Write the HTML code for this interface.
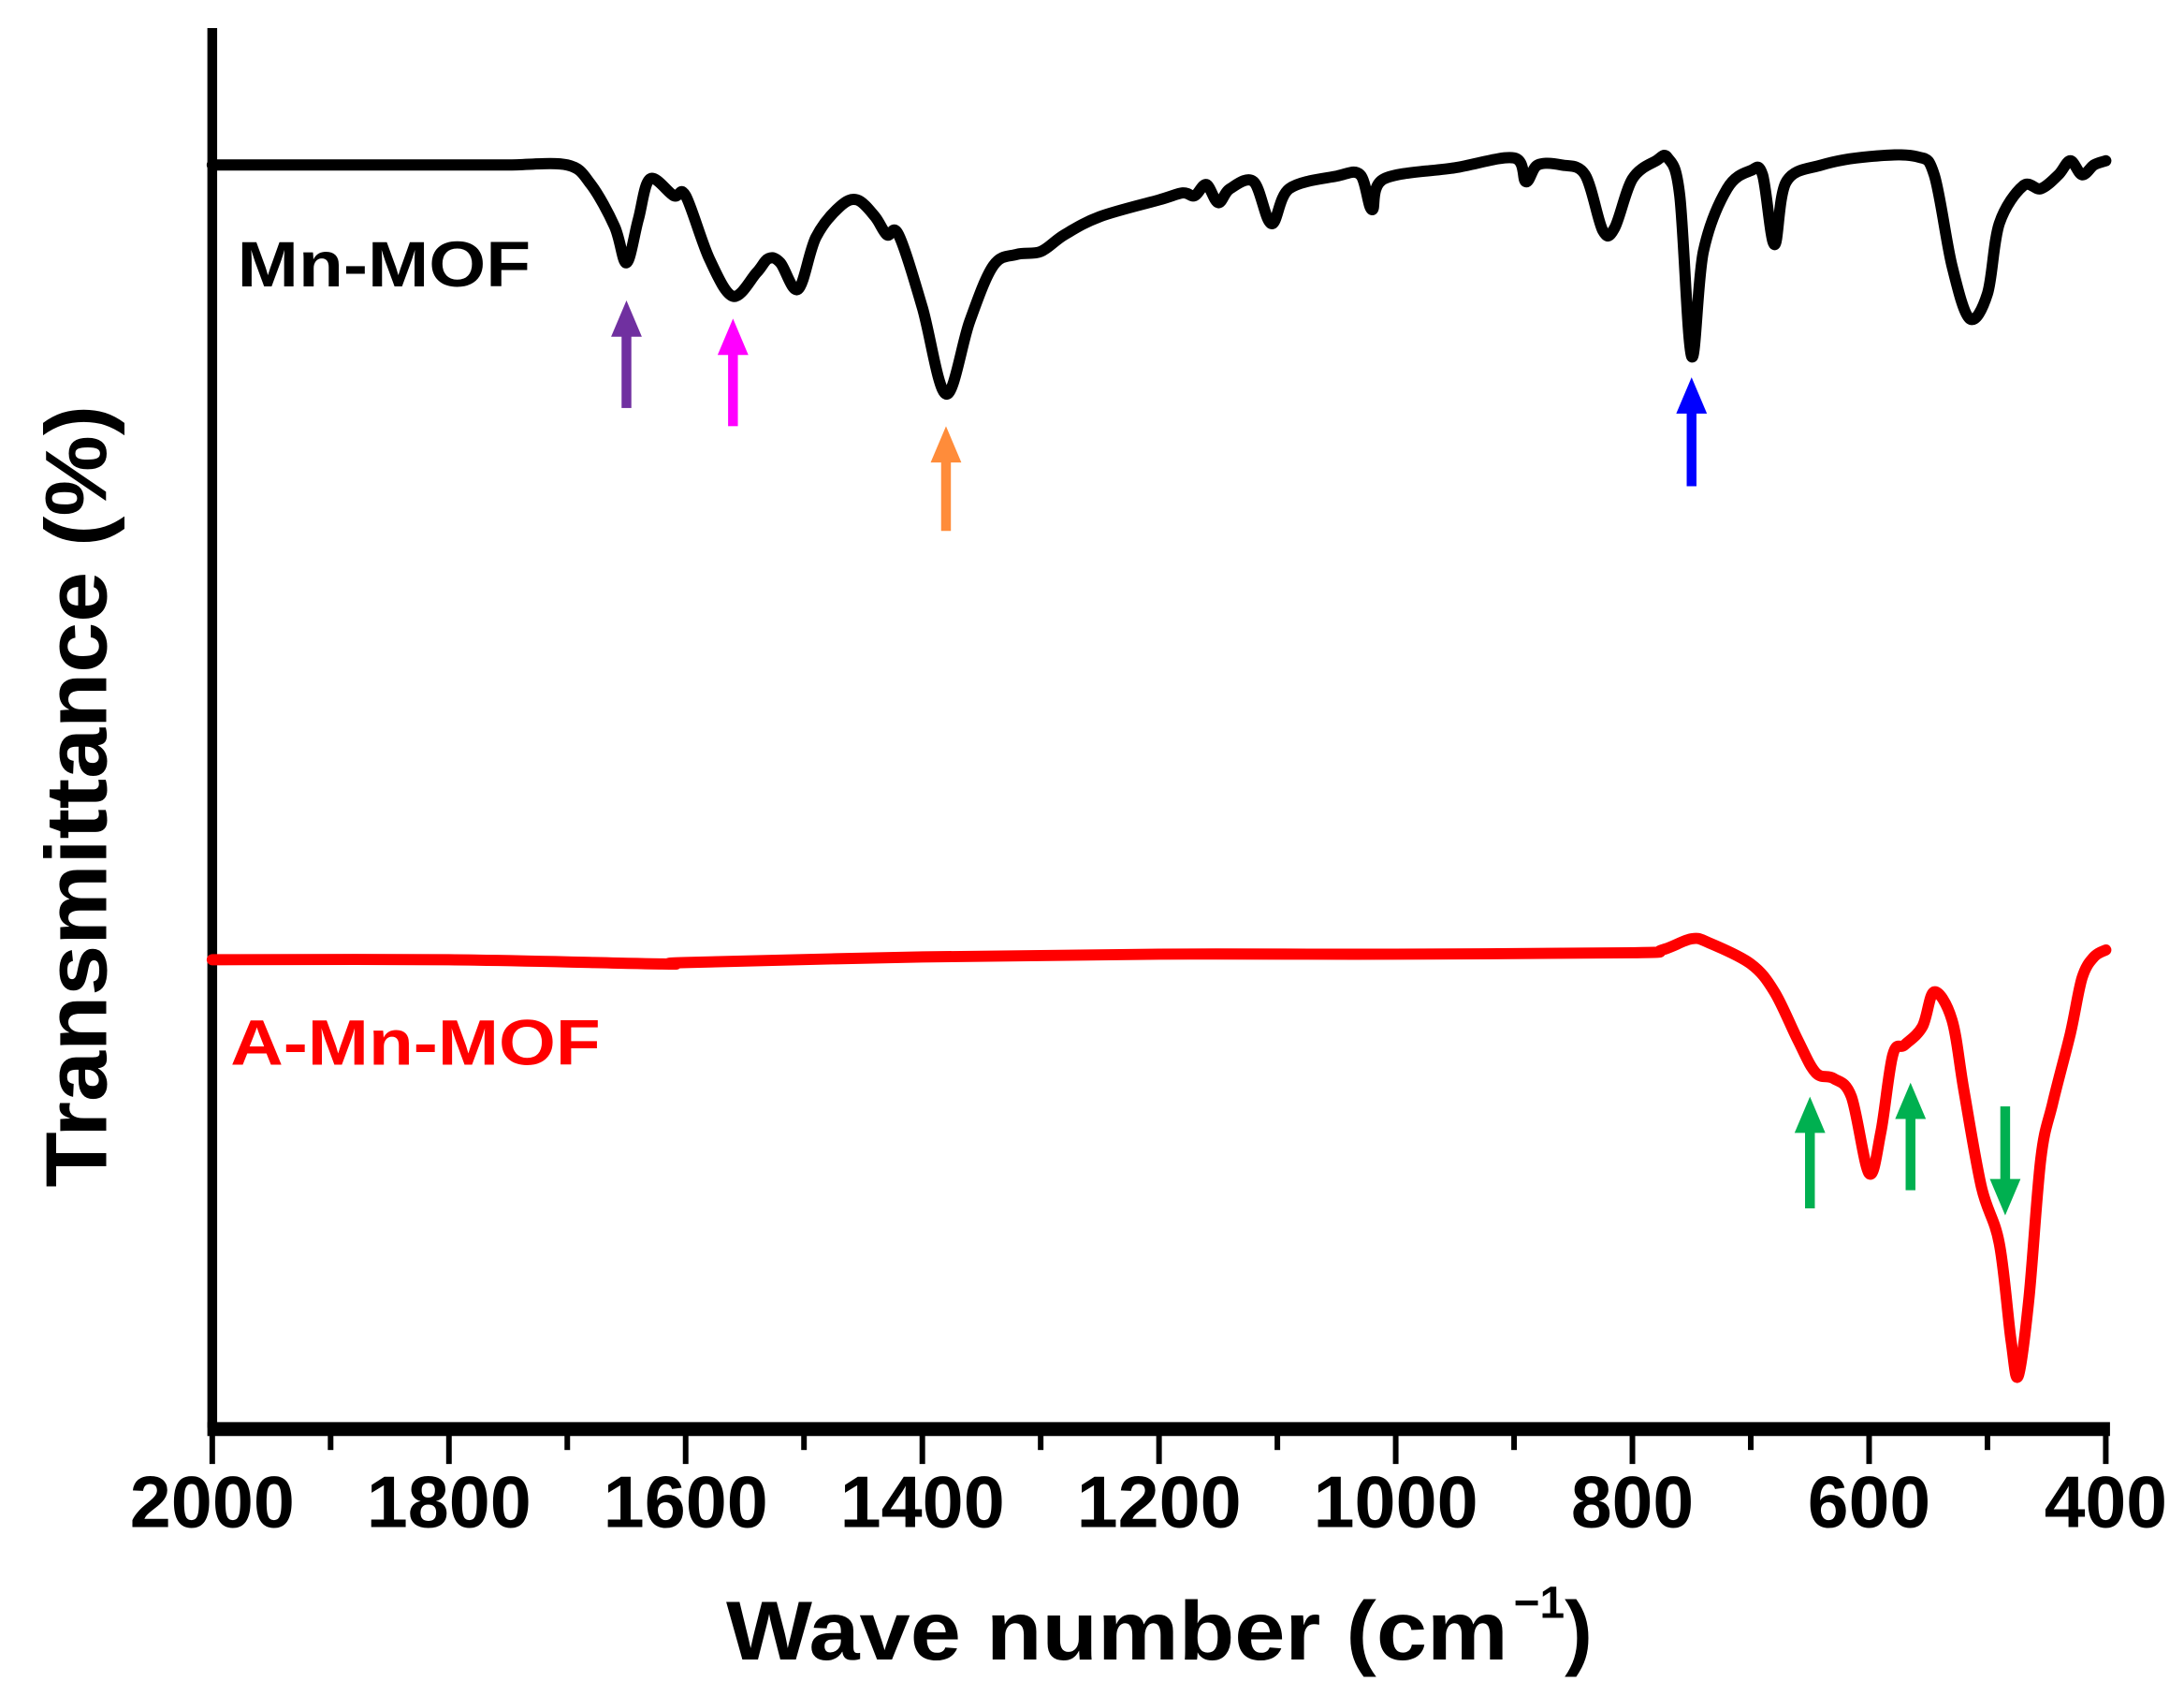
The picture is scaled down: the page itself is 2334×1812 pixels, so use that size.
<!DOCTYPE html>
<html><head><meta charset="utf-8"><style>
html,body{margin:0;padding:0;background:#fff;}
svg{display:block;font-family:"Liberation Sans",Arial,sans-serif;font-weight:bold;}
</style></head><body>
<svg id="chart" width="2334" height="1812" viewBox="0 0 1564 1214" xmlns="http://www.w3.org/2000/svg">
<g id="axes"></g>
<g id="series"></g>
<g id="arrows"></g>
<text x="170" y="205" font-size="46" textLength="210" lengthAdjust="spacingAndGlyphs" fill="#000">Mn-MOF</text>
<text x="165" y="762" font-size="46" textLength="265" lengthAdjust="spacingAndGlyphs" fill="#ff0000">A-Mn-MOF</text>
<text x="520" y="1188" font-size="60"><tspan textLength="560" lengthAdjust="spacingAndGlyphs">Wave number (cm</tspan><tspan dx="4" dy="-30" font-size="32">−1</tspan><tspan dy="30">)</tspan></text>
<text transform="translate(76,570) rotate(-90)" font-size="62" text-anchor="middle" textLength="560" lengthAdjust="spacingAndGlyphs">Transmittance (%)</text>
</svg>
<script>
const xTicks = [2000,1800,1600,1400,1200,1000,800,600,400];
const xMinorTicks = [1900,1700,1500,1300,1100,900,700,500];
const mnWave = [2000,1950,1900,1850,1800,1750,1700,1680,1660,1650,1640,1630,1610,1600,1580,1560,1540,1530,1520,1505,1490,1470,1455,1440,1430,1420,1400,1380,1360,1340,1320,1300,1280,1250,1200,1180,1170,1160,1150,1140,1120,1105,1090,1050,1030,1020,1010,950,900,890,880,860,840,825,815,800,780,770,760,750,740,720,700,690,680,670,640,600,560,545,530,515,500,490,470,455,440,430,420,410,400];
const mnT = [90.4,90.4,90.4,90.4,90.4,90.4,90.4,89,86,83.4,86.5,89.4,88.2,88.2,83.7,81.0,82.7,83.7,83.4,81.5,85.2,87.4,87.9,86.7,85.4,85.4,80.2,74.0,79.2,83.2,84.0,84.2,85.4,86.7,87.9,88.4,88.2,89.0,87.7,88.7,89.2,86.2,88.7,89.6,89.7,87.2,89.4,90.2,90.9,89.2,90.4,90.4,89.7,85.7,85.9,89.4,90.7,90.9,88.2,76.7,84.2,88.7,90.0,89.7,84.7,89.2,90.4,91.0,91.0,89.7,83.2,79.4,81.2,86.2,88.9,88.7,89.7,90.7,89.7,90.4,90.7];
const amnWave = [2000,1800,1620,1600,1400,1200,1000,800,775,750,735,700,680,660,645,630,615,600,590,580,570,555,545,530,520,505,490,480,474,465,455,445,430,420,410,400];
const amnT = [33.5,33.5,33.2,33.3,33.7,33.9,33.9,34.0,34.2,35.0,34.7,33.2,31.2,27.7,25.4,25.0,23.7,18.2,21.2,26.7,27.4,28.7,31.2,29.2,24.2,17.2,13.2,6.2,3.7,9.2,19.2,23.2,28.2,32.2,33.7,34.2];
const arrowWave = [1650,1560,1380,750,650,565,485];
const arrowColors = ["#7030a0","#ff00ff","#ff8c3a","#0000ff","#00b050","#00b050","#00b050"];
const arrowDir = ["up","up","up","up","up","up","down"];
const arrowTop = [80.7,79.4,71.7,75.2,23.7,24.7,23.0];
const arrowBottom = [73.0,71.7,64.2,67.4,15.7,17.0,15.2];

const NS="http://www.w3.org/2000/svg";
const X0=152,X1=1508,YB=1022;
function xs(w){return X0+(2000-w)*(X1-X0)/1600;}
function ys(t){return YB-t*10;}
function mk(tag,attrs,parent){const e=document.createElementNS(NS,tag);for(const k in attrs)e.setAttribute(k,attrs[k]);parent.appendChild(e);return e;}
const axes=document.getElementById('axes');
let e=mk('line',{x1:X0,y1:20,x2:X0,y2:YB,stroke:'#000','stroke-width':7},axes);


e=mk('line',{x1:X0-3.5,y1:YB+1,x2:X1+3,y2:YB+1,stroke:'#000','stroke-width':10},axes);


xTicks.forEach(v=>{
  const t=mk('line',{x1:xs(v),y1:YB,x2:xs(v),y2:YB+26,stroke:'#000','stroke-width':4},axes);
  
  
  const len=String(v).length===4?118:88;
  const l=mk('text',{x:xs(v)-len/2,y:1093,'font-size':52,textLength:len,lengthAdjust:'spacingAndGlyphs'},axes);
  l.textContent=v;
  
  
});
xMinorTicks.forEach(v=>{
  const t=mk('line',{x1:xs(v),y1:YB,x2:xs(v),y2:YB+16,stroke:'#000','stroke-width':4},axes);
  
  
});
const ser=document.getElementById('series');
function line(w,t,c,name){
  const P=w.map((v,i)=>[xs(v),ys(t[i])]);
  let d='M'+P[0][0].toFixed(1)+' '+P[0][1].toFixed(1);
  for(let i=0;i<P.length-1;i++){
    const p0=P[i-1]||P[i],p1=P[i],p2=P[i+1],p3=P[i+2]||P[i+1];
    const c1=[p1[0]+(p2[0]-p0[0])/6,p1[1]+(p2[1]-p0[1])/6];
    const c2=[p2[0]-(p3[0]-p1[0])/6,p2[1]-(p3[1]-p1[1])/6];
    d+=` C${c1[0].toFixed(1)} ${c1[1].toFixed(1)} ${c2[0].toFixed(1)} ${c2[1].toFixed(1)} ${p2[0].toFixed(1)} ${p2[1].toFixed(1)}`;
  }
  const p=mk('path',{d:d,fill:'none',stroke:c,'stroke-width':8,'stroke-linejoin':'round','stroke-linecap':'round'},ser);
  
  
}
line(mnWave,mnT,'#000','mn-mof-spectrum');
line(amnWave,amnT,'#ff0000','a-mn-mof-spectrum');
const ag=document.getElementById('arrows');
arrowWave.forEach((w,i)=>{
  const x=xs(w),top=ys(arrowTop[i]),bot=ys(arrowBottom[i]),c=arrowColors[i];
  const g=mk('g',{},ag);
  
  
  if(arrowDir[i]==='up'){
    mk('rect',{x:x-3.5,y:top+20,width:7,height:bot-top-20,fill:c},g);
    mk('polygon',{points:`${x},${top} ${x-11},${top+26} ${x+11},${top+26}`,fill:c},g);
  }else{
    mk('rect',{x:x-3.5,y:top,width:7,height:bot-top-20,fill:c},g);
    mk('polygon',{points:`${x},${bot} ${x-11},${bot-26} ${x+11},${bot-26}`,fill:c},g);
  }
});
</script>
</body></html>
